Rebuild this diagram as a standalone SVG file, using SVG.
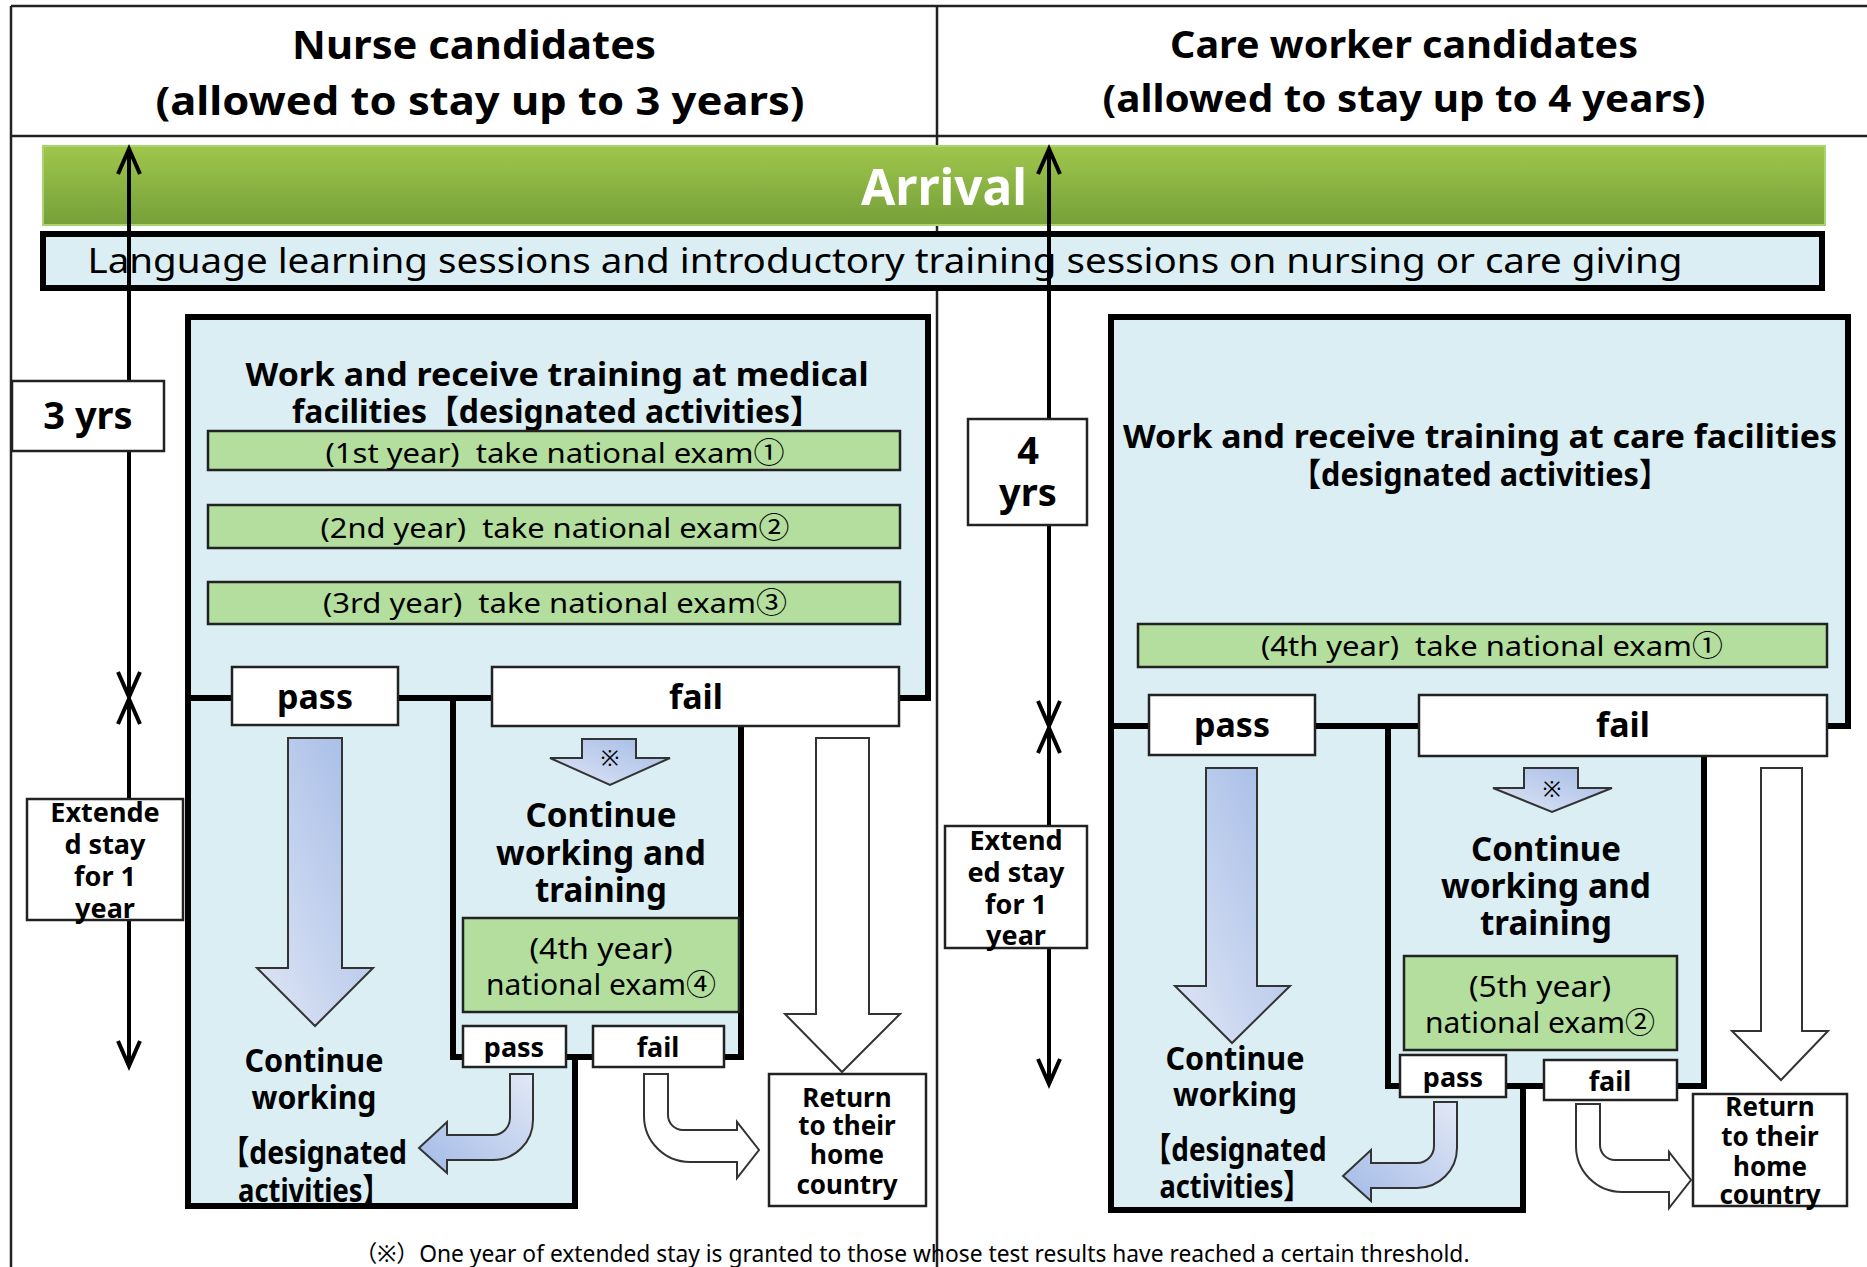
<svg xmlns="http://www.w3.org/2000/svg" width="1867" height="1267" viewBox="0 0 1867 1267">
<defs>
<style>
.b{font-family:"Noto Sans","Noto Sans CJK JP",sans-serif;font-weight:700;fill:#000;text-anchor:middle}
.r{font-family:"Noto Sans","Noto Sans CJK JP",sans-serif;font-weight:400;fill:#000;text-anchor:middle}
.blue{fill:#daeef3;stroke:#000;stroke-width:6}
.exam{fill:#b3de9d;stroke:#222;stroke-width:2.5}
.wbox{fill:#fff;stroke:#222;stroke-width:2.5}
.tl{stroke:#000;stroke-width:4;fill:none}
.arr{stroke:#333;stroke-width:2}
</style>
<linearGradient id="gArr" x1="0" y1="0" x2="0" y2="1"><stop offset="0" stop-color="#9fc64c"/><stop offset="1" stop-color="#76a03a"/></linearGradient>
<linearGradient id="gB1" x1="1" y1="0" x2="0" y2="1"><stop offset="0" stop-color="#a2bae6"/><stop offset="1" stop-color="#e0e6f5"/></linearGradient>
<linearGradient id="gB2" x1="0" y1="1" x2="1" y2="0"><stop offset="0" stop-color="#a2bae6"/><stop offset="1" stop-color="#e2e8f6"/></linearGradient>
</defs>
<rect x="0" y="0" width="1867" height="1267" fill="#fff"/>

<g id="frame">
<line x1="11" y1="6" x2="1867" y2="6" stroke="#222" stroke-width="2.5"/>
<line x1="11" y1="6" x2="11" y2="1267" stroke="#222" stroke-width="2.5"/>
<line x1="11" y1="136" x2="1867" y2="136" stroke="#222" stroke-width="2.5"/>
<line x1="937" y1="6" x2="937" y2="1267" stroke="#222" stroke-width="2.5"/>
</g>

<g id="header-nurse">
<text class="b" x="474" y="59" font-size="40" textLength="364" lengthAdjust="spacingAndGlyphs">Nurse candidates</text>
<text class="b" x="480" y="115" font-size="40" textLength="649" lengthAdjust="spacingAndGlyphs">(allowed to stay up to 3 years)</text>
</g>
<g id="header-care">
<text class="b" x="1404" y="58" font-size="38" textLength="468" lengthAdjust="spacingAndGlyphs">Care worker candidates</text>
<text class="b" x="1404" y="112" font-size="38" textLength="603" lengthAdjust="spacingAndGlyphs">(allowed to stay up to 4 years)</text>
</g>

<g id="arrival">
<rect x="43" y="146" width="1782" height="79" fill="url(#gArr)" stroke="#a9d46e" stroke-width="2"/>
<text class="b" x="944" y="205" font-size="50" style="fill:#fff" textLength="166" lengthAdjust="spacingAndGlyphs">Arrival</text>
</g>

<g id="language">
<rect x="43" y="234" width="1779" height="54" fill="#daeef3" stroke="#000" stroke-width="6"/>
<text class="r" x="885" y="273" font-size="35" textLength="1595" lengthAdjust="spacingAndGlyphs">Language learning sessions and introductory training sessions on nursing or care giving</text>
</g>

<!-- ============ LEFT: NURSE ============ -->
<g id="nurse-main">
<rect class="blue" x="188" y="317" width="740" height="381"/>
<text class="b" x="557" y="386" font-size="32" textLength="623" lengthAdjust="spacingAndGlyphs">Work and receive training at medical</text>
<text class="b" x="557" y="423" font-size="32" textLength="530" lengthAdjust="spacingAndGlyphs">facilities【designated activities】</text>
</g>
<g id="nurse-exam1"><rect class="exam" x="208" y="431" width="692" height="39"/>
<text class="r" x="555" y="463" font-size="28" textLength="459" lengthAdjust="spacingAndGlyphs">(1st year)&#160;&#160;take national exam①</text></g>
<g id="nurse-exam2"><rect class="exam" x="208" y="505" width="692" height="43"/>
<text class="r" x="555" y="538" font-size="28" textLength="469" lengthAdjust="spacingAndGlyphs">(2nd year)&#160;&#160;take national exam②</text></g>
<g id="nurse-exam3"><rect class="exam" x="208" y="582" width="692" height="42"/>
<text class="r" x="555" y="613" font-size="28" textLength="464" lengthAdjust="spacingAndGlyphs">(3rd year)&#160;&#160;take national exam③</text></g>

<g id="nurse-lower">
<path class="blue" d="M188,698 H741 V1057 H575 V1206 H188 Z"/>
<rect class="blue" x="453" y="698" width="288" height="359"/>
</g>

<g id="nurse-pass"><rect class="wbox" x="232" y="667" width="166" height="58"/>
<text class="b" x="315" y="709" font-size="34">pass</text></g>
<g id="nurse-fail"><rect class="wbox" x="492" y="667" width="407" height="59"/>
<text class="b" x="696" y="709" font-size="34">fail</text></g>

<g id="nurse-continue">
<text class="b" x="601" y="827" font-size="34" textLength="151" lengthAdjust="spacingAndGlyphs">Continue</text>
<text class="b" x="601" y="865" font-size="34" textLength="210" lengthAdjust="spacingAndGlyphs">working and</text>
<text class="b" x="601" y="902" font-size="34" textLength="132" lengthAdjust="spacingAndGlyphs">training</text>
</g>
<g id="nurse-exam4"><rect class="exam" x="463" y="918" width="276" height="94"/>
<text class="r" x="601" y="959" font-size="29" textLength="143" lengthAdjust="spacingAndGlyphs">(4th year)</text>
<text class="r" x="601" y="995" font-size="29" textLength="230" lengthAdjust="spacingAndGlyphs">national exam④</text></g>
<g id="nurse-pass2"><rect class="wbox" x="463" y="1026" width="103" height="41"/>
<text class="b" x="514" y="1057" font-size="27">pass</text></g>
<g id="nurse-fail2"><rect class="wbox" x="593" y="1026" width="131" height="41"/>
<text class="b" x="658" y="1057" font-size="27">fail</text></g>

<g id="nurse-designated">
<text class="b" x="314" y="1072" font-size="33" textLength="139" lengthAdjust="spacingAndGlyphs">Continue</text>
<text class="b" x="314" y="1109" font-size="33" textLength="125" lengthAdjust="spacingAndGlyphs">working</text>
<text class="b" x="314" y="1164" font-size="33" textLength="186" lengthAdjust="spacingAndGlyphs">【designated</text>
<text class="b" x="314" y="1202" font-size="33" textLength="152" lengthAdjust="spacingAndGlyphs">activities】</text>
</g>

<g id="nurse-return"><rect class="wbox" x="769" y="1074" width="157" height="132"/>
<text class="b" x="847" y="1107" font-size="26">Return</text>
<text class="b" x="847" y="1135" font-size="26">to their</text>
<text class="b" x="847" y="1164" font-size="26">home</text>
<text class="b" x="847" y="1194" font-size="26">country</text></g>

<!-- ============ RIGHT: CARE ============ -->
<g id="care-main">
<rect class="blue" x="1111" y="317" width="737" height="409"/>
<text class="b" x="1480" y="448" font-size="32" textLength="714" lengthAdjust="spacingAndGlyphs">Work and receive training at care facilities</text>
<text class="b" x="1480" y="486" font-size="32" textLength="379" lengthAdjust="spacingAndGlyphs">【designated activities】</text>
</g>
<g id="care-exam1"><rect class="exam" x="1138" y="624" width="689" height="43"/>
<text class="r" x="1492" y="656" font-size="28" textLength="462" lengthAdjust="spacingAndGlyphs">(4th year)&#160;&#160;take national exam①</text></g>

<g id="care-lower">
<path class="blue" d="M1111,726 H1704 V1086 H1523 V1210 H1111 Z"/>
<rect class="blue" x="1388" y="726" width="316" height="360"/>
</g>

<g id="care-pass"><rect class="wbox" x="1149" y="695" width="166" height="60"/>
<text class="b" x="1232" y="737" font-size="34">pass</text></g>
<g id="care-fail"><rect class="wbox" x="1419" y="695" width="408" height="61"/>
<text class="b" x="1623" y="737" font-size="34">fail</text></g>

<g id="care-continue">
<text class="b" x="1546" y="861" font-size="34" textLength="150" lengthAdjust="spacingAndGlyphs">Continue</text>
<text class="b" x="1546" y="898" font-size="34" textLength="210" lengthAdjust="spacingAndGlyphs">working and</text>
<text class="b" x="1546" y="935" font-size="34" textLength="132" lengthAdjust="spacingAndGlyphs">training</text>
</g>
<g id="care-exam2"><rect class="exam" x="1404" y="956" width="273" height="94"/>
<text class="r" x="1540" y="997" font-size="29" textLength="142" lengthAdjust="spacingAndGlyphs">(5th year)</text>
<text class="r" x="1540" y="1033" font-size="29" textLength="230" lengthAdjust="spacingAndGlyphs">national exam②</text></g>
<g id="care-pass2"><rect class="wbox" x="1400" y="1055" width="106" height="42"/>
<text class="b" x="1453" y="1087" font-size="27">pass</text></g>
<g id="care-fail2"><rect class="wbox" x="1544" y="1060" width="133" height="40"/>
<text class="b" x="1610" y="1091" font-size="27">fail</text></g>

<g id="care-designated">
<text class="b" x="1235" y="1070" font-size="33" textLength="139" lengthAdjust="spacingAndGlyphs">Continue</text>
<text class="b" x="1235" y="1106" font-size="33" textLength="124" lengthAdjust="spacingAndGlyphs">working</text>
<text class="b" x="1235" y="1161" font-size="33" textLength="183" lengthAdjust="spacingAndGlyphs">【designated</text>
<text class="b" x="1235" y="1198" font-size="33" textLength="151" lengthAdjust="spacingAndGlyphs">activities】</text>
</g>

<g id="care-return"><rect class="wbox" x="1693" y="1094" width="154" height="112"/>
<text class="b" x="1770" y="1116" font-size="26">Return</text>
<text class="b" x="1770" y="1146" font-size="26">to their</text>
<text class="b" x="1770" y="1176" font-size="26">home</text>
<text class="b" x="1770" y="1204" font-size="26">country</text></g>

<!-- ============ CONNECTORS ============ -->
<g id="connectors">
<path class="arr" fill="url(#gB1)" d="M288,738 H342 V968 H373 L315,1026 L257,968 H288 Z"/>
<path class="arr" fill="url(#gB1)" d="M582,739 H636 V758 H670 L610,785 L550,758 H582 Z"/>
<path class="arr" fill="#fff" d="M816,738 H869 V1014 H900 L842,1072 L785,1014 H816 Z"/>
<path class="arr" fill="url(#gB2)" d="M510,1074 L533,1074 L533,1120 A40,40 0 0 1 493,1160 L447,1160 L447,1173 L419,1148 L447,1122 L447,1135 L493,1135 A17,17 0 0 0 510,1118 Z"/>
<path class="arr" fill="#fff" d="M644,1074 L668,1074 L668,1115 A15,15 0 0 0 683,1130 L737,1130 L737,1122 L759,1150 L737,1178 L737,1162 L690,1162 A46,46 0 0 1 644,1116 Z"/>
<path class="arr" fill="url(#gB1)" d="M1206,768 H1257 V986 H1290 L1232,1043 L1175,986 H1206 Z"/>
<path class="arr" fill="url(#gB1)" d="M1524,768 H1578 V788 H1612 L1552,812 L1493,788 H1524 Z"/>
<path class="arr" fill="#fff" d="M1761,768 H1802 V1031 H1828 L1781,1080 L1732,1031 H1761 Z"/>
<path class="arr" fill="url(#gB2)" transform="translate(924,28)" d="M510,1074 L533,1074 L533,1120 A40,40 0 0 1 493,1160 L447,1160 L447,1173 L419,1148 L447,1122 L447,1135 L493,1135 A17,17 0 0 0 510,1118 Z"/>
<path class="arr" fill="#fff" transform="translate(932,30)" d="M644,1074 L668,1074 L668,1115 A15,15 0 0 0 683,1130 L737,1130 L737,1122 L759,1150 L737,1178 L737,1162 L690,1162 A46,46 0 0 1 644,1116 Z"/>
<line class="tl" x1="129" y1="150" x2="129" y2="696"/>
<polyline class="tl" points="118,174 129,149 140,174"/>
<polyline class="tl" points="118,672 129,697 140,672"/>
<line class="tl" x1="129" y1="700" x2="129" y2="1065"/>
<polyline class="tl" points="118,724 129,699 140,724"/>
<polyline class="tl" points="118,1041 129,1066 140,1041"/>
<line class="tl" x1="1049" y1="150" x2="1049" y2="725"/>
<polyline class="tl" points="1038,174 1049,149 1060,174"/>
<polyline class="tl" points="1038,701 1049,726 1060,701"/>
<line class="tl" x1="1049" y1="729" x2="1049" y2="1083"/>
<polyline class="tl" points="1038,753 1049,728 1060,753"/>
<polyline class="tl" points="1038,1059 1049,1084 1060,1059"/>
</g>
<text class="r" x="610" y="766" font-size="22">※</text>
<text class="r" x="1552" y="797" font-size="22">※</text>

<g id="nurse-3yrs"><rect class="wbox" x="12" y="381" width="152" height="70"/>
<text class="b" x="88" y="429" font-size="38">3 yrs</text></g>
<g id="nurse-extended"><rect class="wbox" x="27" y="799" width="156" height="121"/>
<text class="b" x="105" y="822" font-size="27">Extende</text>
<text class="b" x="105" y="854" font-size="27">d stay</text>
<text class="b" x="105" y="886" font-size="27">for 1</text>
<text class="b" x="105" y="918" font-size="27">year</text></g>

<g id="care-4yrs"><rect class="wbox" x="968" y="419" width="119" height="106"/>
<text class="b" x="1028" y="464" font-size="38">4</text>
<text class="b" x="1028" y="506" font-size="38">yrs</text></g>
<g id="care-extended"><rect class="wbox" x="945" y="826" width="142" height="122"/>
<text class="b" x="1016" y="850" font-size="27">Extend</text>
<text class="b" x="1016" y="882" font-size="27">ed stay</text>
<text class="b" x="1016" y="914" font-size="27">for 1</text>
<text class="b" x="1016" y="945" font-size="27">year</text></g>

<g id="footnote">
<text class="r" x="912" y="1262" font-size="23" textLength="1115" lengthAdjust="spacingAndGlyphs">（※）One year of extended stay is granted to those whose test results have reached a certain threshold.</text>
</g>
</svg>
